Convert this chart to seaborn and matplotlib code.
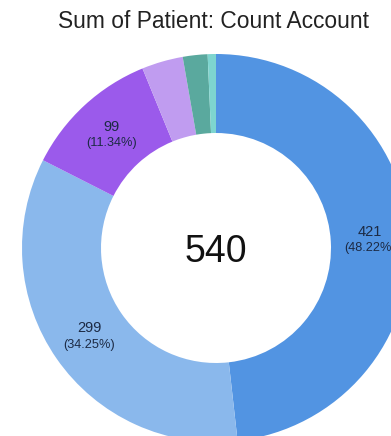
import matplotlib
matplotlib.use("Agg")
import matplotlib.pyplot as plt
import numpy as np
import seaborn as sns

# Patient counts per account group
groups = ["Group A", "Group B", "Group C", "Group D", "Group E", "Group F"]
counts = [421, 299, 99, 30, 18, 6]
slice_colors = ["#5294E2", "#8AB8EC", "#9B5AEB", "#C09CF0", "#5AA99E", "#7ED5CF"]
center_value = "540"
title_text = "Sum of Patient: Count Account"

sns.set_theme(style="white")
plt.rcParams["font.family"] = ["Liberation Sans", "DejaVu Sans"]

W, H, DPI = 391, 436, 100
fig = plt.figure(figsize=(W / DPI, H / DPI), dpi=DPI)
ax = fig.add_axes([0, 0, 1, 1])

# donut centre and radius in pixels
cx, cy, R = 216, 248, 194

ring = 1 - 115 / R
wedges, _ = ax.pie(
    counts,
    colors=slice_colors,
    startangle=90,
    counterclock=False,
    radius=1,
    wedgeprops=dict(width=ring, edgecolor="none", linewidth=0),
)
ax.set_aspect("auto")
ax.set_xlim(-cx / R, (W - cx) / R)
ax.set_ylim(-(H - cy) / R, cy / R)
ax.axis("off")

total = sum(counts)
label_r = 1 - ring / 2
for w, v in zip(wedges, counts):
    pct = 100 * v / total
    if pct < 5:
        continue
    mid = np.deg2rad((w.theta1 + w.theta2) / 2)
    x, y = label_r * np.cos(mid), label_r * np.sin(mid)
    ax.text(x, y + 0.04, f"{v}", ha="center", va="center",
            fontsize=10.5, color="#1c2a44")
    ax.text(x, y - 0.045, f"({pct:.2f}%)", ha="center", va="center",
            fontsize=9.2, color="#1c2a44")

ax.text(0, -0.02, center_value, ha="center", va="center",
        fontsize=27, color="#111111")

fig.text(214 / W, 1 - 22 / H, title_text, ha="center", va="center",
         fontsize=16.4, color="#222222")

fig.savefig("out.png", dpi=DPI)
